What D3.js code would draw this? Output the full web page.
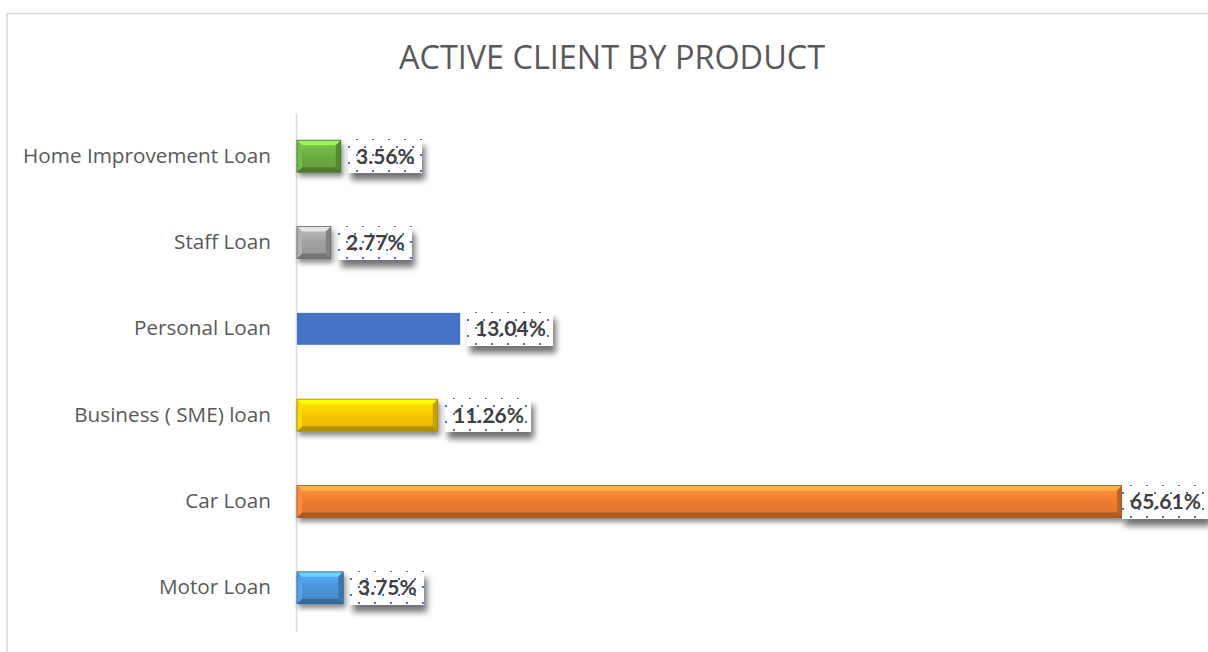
<!DOCTYPE html>
<html><head><meta charset="utf-8">
<script src="https://cdn.jsdelivr.net/npm/d3@7"></script>
<style>body{margin:0;background:#fff;}svg{display:block;}</style>
</head><body>
<svg id="c" width="1208" height="652"></svg>
<script>
const categories = ["Home Improvement Loan","Staff Loan","Personal Loan","Business ( SME) loan","Car Loan","Motor Loan"];
const values = [3.56, 2.77, 13.04, 11.26, 65.61, 3.75];
const labels = ["3.56%","2.77%","13.04%","11.26%","65.61%","3.75%"];
const colors = ["#6aab3f","#a0a0a0","#4472c4","#f7c600","#ed7d31","#4a93d6"];
const bevelled = [true,true,false,true,true,true];
const title = "ACTIVE CLIENT BY PRODUCT";

const W = 1208;
const svg = d3.select("#c");
const defs = svg.append("defs");
const f = defs.append("filter").attr("id","sh").attr("x","-30%").attr("y","-50%").attr("width","170%").attr("height","250%");
f.append("feDropShadow").attr("dx",3).attr("dy",7).attr("stdDeviation",3).attr("flood-color","#000").attr("flood-opacity",0.55);
const fb = defs.append("filter").attr("id","bsh").attr("x","-10%").attr("y","-50%").attr("width","130%").attr("height","250%");
fb.append("feDropShadow").attr("dx",2).attr("dy",4).attr("stdDeviation",2.5).attr("flood-color","#000").attr("flood-opacity",0.45);

// chart border
svg.append("rect").attr("x",7).attr("y",13.5).attr("width",1230).attr("height",680)
  .attr("fill","#fff").attr("stroke","#d9d9d9").attr("stroke-width",1.5);

svg.append("text").attr("x",612).attr("y",69).attr("text-anchor","middle")
  .attr("font-family","'Open Sans', sans-serif").attr("font-size",32.4).attr("fill","#595959").text(title);

const x = d3.scaleLinear().domain([0,65.61]).range([296,1122]);
const y = d3.scaleBand().domain(categories).range([113,631]).paddingInner(0.63).paddingOuter(0.315);

// axis
const yAxis = d3.axisLeft(y).tickSize(0).tickPadding(25);
const ag = svg.append("g").attr("transform","translate(296,0)").call(yAxis);
ag.select(".domain").attr("stroke","#d9d9d9").attr("stroke-width",1.5);
ag.selectAll("text").attr("font-family","'Open Sans', sans-serif").attr("font-size",20.7).attr("fill","#595959");

const g = svg.append("g");
categories.forEach((c,i)=>{
  const x0 = x(0)+1, x1 = x(values[i]), y0 = y(c), y1 = y0 + y.bandwidth();
  const col = d3.color(colors[i]);
  const bg = g.append("g");
  if(!bevelled[i]){
    bg.append("rect").attr("x",x0).attr("y",y0).attr("width",x1-x0).attr("height",y1-y0).attr("fill",colors[i]);
  } else {
    const gid = "grad"+i;
    const lg = defs.append("linearGradient").attr("id",gid).attr("x1",0).attr("y1",0).attr("x2",0).attr("y2",1);
    lg.append("stop").attr("offset","0%").attr("stop-color",col.brighter(0.5));
    lg.append("stop").attr("offset","50%").attr("stop-color",colors[i]);
    lg.append("stop").attr("offset","100%").attr("stop-color",col.darker(0.2));
    bg.attr("filter","url(#bsh)");
    bg.append("rect").attr("x",x0).attr("y",y0).attr("width",x1-x0).attr("height",y1-y0).attr("fill",`url(#${gid})`);
    const b = 5;
    const poly = (pts,fill)=>bg.append("polygon").attr("points",pts.map(p=>p.join(",")).join(" ")).attr("fill",fill);
    poly([[x0,y0],[x1,y0],[x1-b,y0+b],[x0+b,y0+b]], col.brighter(1.0));
    poly([[x0,y1],[x1,y1],[x1-b,y1-b],[x0+b,y1-b]], col.darker(0.9));
    poly([[x0,y0],[x0+b,y0+b],[x0+b,y1-b],[x0,y1]], col.brighter(0.3));
    poly([[x1,y0],[x1-b,y0+b],[x1-b,y1-b],[x1,y1]], col.darker(0.6));
    bg.append("rect").attr("x",x0).attr("y",y0).attr("width",x1-x0).attr("height",y1-y0).attr("fill","none").attr("stroke",col.darker(1.2)).attr("stroke-width",0.8);
  }
  // label
  const cy = y0 + y.bandwidth()/2;
  const lgp = g.append("g");
  const t = lgp.append("text").attr("font-family","Lato, 'Open Sans', sans-serif")
    .attr("font-weight","bold").attr("font-size",21).attr("fill","#404040").text(labels[i]);
  const w = t.node().getComputedTextLength();
  const bw = Math.round(w + 15);
  const bx = Math.round(Math.min(x1 + 7, W - bw)), by = Math.round(cy - 17);
  t.attr("x",bx+8).attr("y",cy+7.5);
  const pid = "pat"+i;
  const p = defs.append("pattern").attr("id",pid).attr("patternUnits","userSpaceOnUse")
    .attr("x",bx+1).attr("y",by).attr("width",16).attr("height",16);
  [[8,0],[8,16],[0,8],[16,8]].forEach(d=>p.append("rect").attr("x",d[0]-1).attr("y",d[1]-1).attr("width",2).attr("height",2).attr("fill","#4472c4"));
  lgp.insert("rect","text").attr("x",bx).attr("y",by).attr("width",bw).attr("height",34)
    .attr("fill","#fff").attr("filter","url(#sh)");
  lgp.insert("rect","text").attr("x",bx).attr("y",by).attr("width",bw).attr("height",34)
    .attr("fill",`url(#${pid})`);
});
</script>
</body></html>
